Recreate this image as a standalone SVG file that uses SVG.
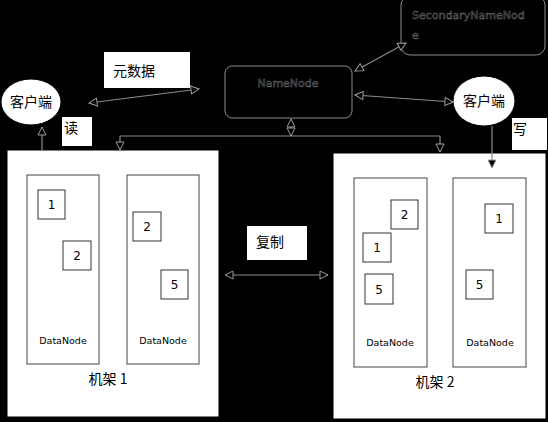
<svg xmlns="http://www.w3.org/2000/svg" width="548" height="422" viewBox="0 0 548 422">
<defs>
<style>
.bg{fill:#000}
.conn{fill:none;stroke:#8c8c8c;stroke-width:1.2}
.rack{fill:#fff;stroke:#000;stroke-width:1}
.dn{fill:#fff;stroke:#444;stroke-width:1}
.blk{fill:#fff;stroke:#333;stroke-width:1}
.lbl{fill:#fff;stroke:none}
.nn{fill:#000;stroke:#8c8c8c;stroke-width:1}
.cli{fill:#fff;stroke:#000;stroke-width:1}
.cjk{font-family:"Noto Sans CJK SC","Noto Sans",sans-serif;font-size:14px;fill:#000}
.sans{font-family:"DejaVu Sans",sans-serif;fill:#000}
.ghost{font-family:"DejaVu Sans",sans-serif;font-size:11px;fill:#000;stroke:#6e6e6e;stroke-width:0.5}
</style>
<marker id="ah" viewBox="0 0 10 10" refX="9" refY="5" markerWidth="10" markerHeight="10" markerUnits="userSpaceOnUse" orient="auto-start-reverse">
<path d="M1,1 L9,5 L1,9 z" fill="#000" stroke="#9a9a9a" stroke-width="1"/>
</marker>
</defs>
<rect class="bg" x="0" y="0" width="548" height="422"/>

<g id="secondary-namenode">
<rect class="nn" x="401" y="-4" width="144" height="59" rx="9"/>
<text class="ghost" x="412" y="19">SecondaryNameNod</text>
<text class="ghost" x="412" y="39">e</text>
</g>

<g id="namenode">
<rect class="nn" x="225" y="66" width="127" height="52" rx="7"/>
<text class="ghost" x="288" y="87" text-anchor="middle">NameNode</text>
</g>

<g id="client-left">
<ellipse class="cli" cx="31" cy="102" rx="30" ry="23"/>
<text class="cjk" x="31" y="107" text-anchor="middle">客户端</text>
</g>

<g id="client-right">
<ellipse class="cli" cx="484" cy="101" rx="31" ry="25"/>
<text class="cjk" x="484" y="106" text-anchor="middle">客户端</text>
</g>

<g id="label-metadata">
<rect class="lbl" x="104" y="52" width="86" height="36"/>
<text class="cjk" x="113" y="76">元数据</text>
</g>
<g id="label-read">
<rect class="lbl" x="62" y="117" width="30" height="29"/>
<text class="cjk" x="64" y="133">读</text>
</g>
<g id="label-write">
<rect class="lbl" x="512" y="118" width="35" height="32"/>
<text class="cjk" x="513" y="134">写</text>
</g>
<g id="label-replicate">
<rect class="lbl" x="247" y="226" width="60" height="34"/>
<text class="cjk" x="256" y="247">复制</text>
</g>

<g id="rack1">
<rect class="rack" x="7" y="150" width="212" height="267"/>
<text class="cjk" x="108" y="384" text-anchor="middle">机架 1</text>
</g>
<g id="datanode1">
<rect class="dn" x="27" y="175" width="72" height="189"/>
<rect class="blk" x="38" y="190" width="27" height="29"/>
<text class="sans" x="51.5" y="209" font-size="12" text-anchor="middle">1</text>
<rect class="blk" x="63" y="241" width="28" height="29"/>
<text class="sans" x="77" y="260" font-size="12" text-anchor="middle">2</text>
<text class="sans" x="63" y="344" font-size="9.5" text-anchor="middle">DataNode</text>
</g>
<g id="datanode2">
<rect class="dn" x="127" y="175" width="72" height="189"/>
<rect class="blk" x="133" y="212" width="28" height="29"/>
<text class="sans" x="147" y="231" font-size="12" text-anchor="middle">2</text>
<rect class="blk" x="161" y="270" width="27" height="29"/>
<text class="sans" x="174.5" y="289" font-size="12" text-anchor="middle">5</text>
<text class="sans" x="163" y="344" font-size="9.5" text-anchor="middle">DataNode</text>
</g>

<g id="rack2">
<rect class="rack" x="333" y="153" width="213" height="266"/>
<text class="cjk" x="435" y="387" text-anchor="middle">机架 2</text>
</g>
<g id="datanode3">
<rect class="dn" x="354" y="178" width="73" height="189"/>
<rect class="blk" x="391" y="200" width="27" height="29"/>
<text class="sans" x="404.5" y="219" font-size="12" text-anchor="middle">2</text>
<rect class="blk" x="363" y="233" width="28" height="29"/>
<text class="sans" x="377" y="252" font-size="12" text-anchor="middle">1</text>
<rect class="blk" x="365" y="274" width="28" height="30"/>
<text class="sans" x="379" y="294" font-size="12" text-anchor="middle">5</text>
<text class="sans" x="390" y="346" font-size="9.5" text-anchor="middle">DataNode</text>
</g>
<g id="datanode4">
<rect class="dn" x="453" y="178" width="73" height="189"/>
<rect class="blk" x="485" y="204" width="28" height="29"/>
<text class="sans" x="499" y="223" font-size="12" text-anchor="middle">1</text>
<rect class="blk" x="466" y="270" width="27" height="29"/>
<text class="sans" x="479.5" y="289" font-size="12" text-anchor="middle">5</text>
<text class="sans" x="490" y="346" font-size="9.5" text-anchor="middle">DataNode</text>
</g>

<g id="connectors">
<path class="conn" d="M89,103 L199,89" marker-start="url(#ah)" marker-end="url(#ah)"/>
<path class="conn" d="M355,71 L406,43" marker-start="url(#ah)" marker-end="url(#ah)"/>
<path class="conn" d="M355,95 L453,102" marker-start="url(#ah)" marker-end="url(#ah)"/>
<path class="conn" d="M291,119 L291,136" marker-start="url(#ah)" marker-end="url(#ah)"/>
<path class="conn" d="M120,136 L440,136"/>
<path class="conn" d="M120,136 L120,150" marker-end="url(#ah)"/>
<path class="conn" d="M440,136 L440,152" marker-end="url(#ah)"/>
<path class="conn" d="M42,150 L42,127" marker-end="url(#ah)"/>
<path class="conn" d="M492,126 L492,168" marker-end="url(#ah)"/>
<path class="conn" d="M225,275 L328,275" marker-start="url(#ah)" marker-end="url(#ah)"/>
</g>
</svg>
